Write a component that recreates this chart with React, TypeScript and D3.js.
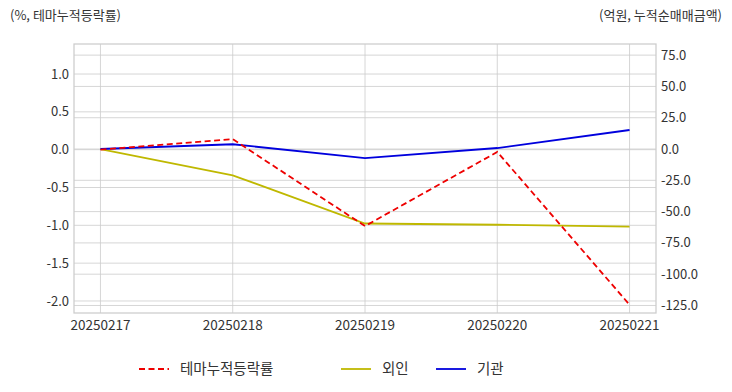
import { useEffect, useRef } from 'react';
import * as d3 from 'd3';

const dates = ['20250217', '20250218', '20250219', '20250220', '20250221'];
const themeRate = [0.0, 0.14, -1.01, -0.03, -2.05];
const foreign = [0.0, -21.0, -59.5, -60.5, -62.0];
const institution = [0.0, 3.8, -7.2, 0.8, 15.2];
const leftTicks = [1.0, 0.5, 0.0, -0.5, -1.0, -1.5, -2.0];
const rightTicks = [75, 50, 25, 0, -25, -50, -75, -100, -125];

const FONT = '"Noto Sans CJK KR", "Noto Sans", sans-serif';

function App() {
  const svgRef = useRef<SVGSVGElement>(null);

  useEffect(() => {
    const w = 732;
    const h = 392;
    const m = { top: 44, right: 76, bottom: 79, left: 74 };
    const svg = d3.select(svgRef.current);
    svg.selectAll('*').remove();

    const x = d3.scalePoint().domain(dates).range([m.left, w - m.right]).padding(0.2);
    const yL = d3.scaleLinear().domain([-2.159, 1.397]).range([h - m.bottom, m.top]);
    const yR = d3.scaleLinear().domain([-131, 83.9]).range([h - m.bottom, m.top]);

    const grid = svg.append('g');
    // horizontal grid from both axes
    grid.selectAll('.gl').data(leftTicks).enter().append('line')
      .attr('x1', m.left).attr('x2', w - m.right)
      .attr('y1', d => yL(d)).attr('y2', d => yL(d))
      .attr('stroke', '#cccccc').attr('stroke-width', 0.8);
    grid.selectAll('.gr').data(rightTicks).enter().append('line')
      .attr('x1', m.left).attr('x2', w - m.right)
      .attr('y1', d => yR(d)).attr('y2', d => yR(d))
      .attr('stroke', '#cccccc').attr('stroke-width', 0.8);
    grid.selectAll('.gx').data(dates).enter().append('line')
      .attr('x1', d => x(d)!).attr('x2', d => x(d)!)
      .attr('y1', m.top).attr('y2', h - m.bottom)
      .attr('stroke', '#cccccc').attr('stroke-width', 0.8);

    svg.append('rect')
      .attr('x', m.left).attr('y', m.top)
      .attr('width', w - m.left - m.right).attr('height', h - m.top - m.bottom)
      .attr('fill', 'none').attr('stroke', '#cccccc').attr('stroke-width', 1.25);

    // left axis labels
    svg.append('g').selectAll('text').data(leftTicks).enter().append('text')
      .attr('x', m.left - 5).attr('y', d => yL(d)).attr('dy', '0.35em')
      .attr('text-anchor', 'end').attr('font-size', 13).attr('font-family', FONT)
      .attr('fill', '#333').text(d => d.toFixed(1));

    svg.append('g').selectAll('text').data(rightTicks).enter().append('text')
      .attr('x', w - m.right + 5).attr('y', d => yR(d)).attr('dy', '0.35em')
      .attr('text-anchor', 'start').attr('font-size', 13).attr('font-family', FONT)
      .attr('fill', '#333').text(d => d.toFixed(1));

    svg.append('g').selectAll('text').data(dates).enter().append('text')
      .attr('x', d => x(d)!).attr('y', h - m.bottom + 17)
      .attr('text-anchor', 'middle').attr('font-size', 13.5).attr('font-family', FONT)
      .attr('fill', '#333').text(d => d);

    svg.append('text').attr('x', 10).attr('y', 20)
      .attr('font-size', 13).attr('font-family', FONT).attr('fill', '#333')
      .text('(%, 테마누적등락률)');
    svg.append('text').attr('x', 722).attr('y', 20).attr('text-anchor', 'end')
      .attr('font-size', 13).attr('font-family', FONT).attr('fill', '#333')
      .text('(억원, 누적순매매금액)');

    const lineL = d3.line<number>().x((_, i) => x(dates[i])!).y(d => yL(d));
    const lineR = d3.line<number>().x((_, i) => x(dates[i])!).y(d => yR(d));

    svg.append('path').attr('d', lineR(foreign)!)
      .attr('fill', 'none').attr('stroke', '#bfb800').attr('stroke-width', 1.8);
    svg.append('path').attr('d', lineR(institution)!)
      .attr('fill', 'none').attr('stroke', '#0000dd').attr('stroke-width', 1.8);
    svg.append('path').attr('d', lineL(themeRate)!)
      .attr('fill', 'none').attr('stroke', '#ee0000').attr('stroke-width', 1.8)
      .attr('stroke-dasharray', '6,3.5');

    const legend = [
      { name: '테마누적등락률', color: '#ee0000', dash: '6,3.5', x: 139 },
      { name: '외인', color: '#bfb800', dash: null, x: 341 },
      { name: '기관', color: '#0000dd', dash: null, x: 436 },
    ];
    const lg = svg.append('g');
    legend.forEach(l => {
      lg.append('line').attr('x1', l.x).attr('x2', l.x + 30).attr('y1', 369).attr('y2', 369)
        .attr('stroke', l.color).attr('stroke-width', 1.8)
        .attr('stroke-dasharray', l.dash);
      lg.append('text').attr('x', l.x + 41).attr('y', 369).attr('dy', '0.35em')
        .attr('font-size', 14.5).attr('font-family', FONT).attr('fill', '#333').text(l.name);
    });
  }, []);

  return (
    <div style={{ position: 'absolute', left: 0, top: 0 }}>
      <svg ref={svgRef} width={732} height={392} style={{ background: '#fff', display: 'block' }} />
    </div>
  );
}

export default App;
